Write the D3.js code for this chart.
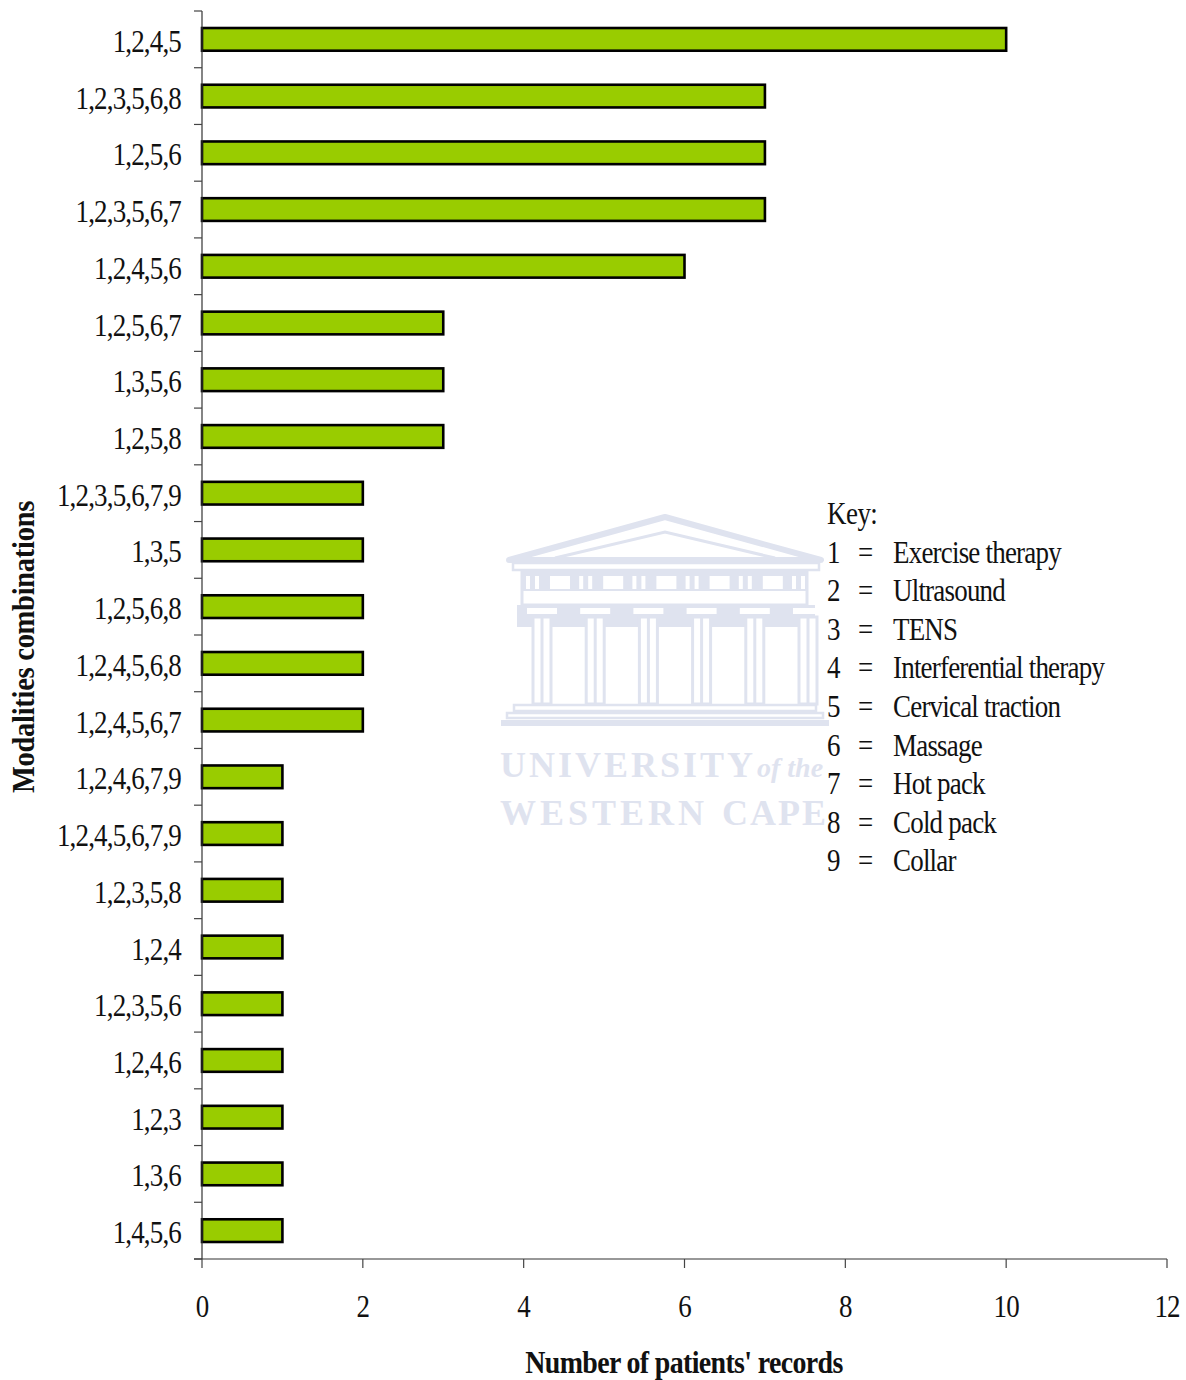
<!DOCTYPE html>
<html>
<head>
<meta charset="utf-8">
<script src="https://cdn.jsdelivr.net/npm/d3@7"></script>
<style>
  html, body { margin: 0; padding: 0; background: #fff; }
  svg { display: block; }
  text { font-family: "Liberation Serif", serif; fill: #111; }
</style>
</head>
<body>
<div id="chart"></div>
<script>
const categories = ["1,2,4,5", "1,2,3,5,6,8", "1,2,5,6", "1,2,3,5,6,7", "1,2,4,5,6", "1,2,5,6,7", "1,3,5,6", "1,2,5,8",
  "1,2,3,5,6,7,9", "1,3,5", "1,2,5,6,8", "1,2,4,5,6,8", "1,2,4,5,6,7", "1,2,4,6,7,9", "1,2,4,5,6,7,9", "1,2,3,5,8",
  "1,2,4", "1,2,3,5,6", "1,2,4,6", "1,2,3", "1,3,6", "1,4,5,6"];
const records = [10, 7, 7, 7, 6, 3, 3, 3, 2, 2, 2, 2, 2, 1, 1, 1, 1, 1, 1, 1, 1, 1];
const xTicks = [0, 2, 4, 6, 8, 10, 12];
const keyNumbers = ["1", "2", "3", "4", "5", "6", "7", "8", "9"];
const keyNames = ["Exercise therapy", "Ultrasound", "TENS", "Interferential therapy", "Cervical traction",
  "Massage", "Hot pack", "Cold pack", "Collar"];

const SIZE = { width: 1186, height: 1380 };
const MARGIN = { left: 202, right: 19, top: 11, bottom: 121 };
const FONT = 31;

const svg = d3.select("#chart").append("svg")
  .attr("width", SIZE.width)
  .attr("height", SIZE.height);

const x = d3.scaleLinear().domain([0, 12]).range([MARGIN.left, SIZE.width - MARGIN.right]);
const y = d3.scaleBand().domain(categories).range([MARGIN.top, SIZE.height - MARGIN.bottom]).paddingInner(0.6).paddingOuter(0.3);

// the source text is tall and narrow, so squeeze it sideways
const squeeze = (px, py, sx) => `translate(${px},${py}) scale(${sx},1)`;

// watermark sits behind everything
const wm = svg.append("g").attr("transform", "translate(500,512)");
const wmColor = "#dfe3ef";
wm.append("path").attr("fill", "none").attr("stroke", wmColor).attr("stroke-width", 6)
  .attr("stroke-linejoin", "round")
  .attr("d", "M9,48 L165,5 L321,48 Z");
wm.append("path").attr("fill", "none").attr("stroke", wmColor).attr("stroke-width", 3)
  .attr("d", "M55,46 L165,20 L275,46");
wm.append("rect").attr("x", 13).attr("y", 51).attr("width", 306).attr("height", 7).attr("fill", "none").attr("stroke", wmColor).attr("stroke-width", 2.5);
wm.append("rect").attr("x", 22).attr("y", 60).attr("width", 285).attr("height", 33).attr("fill", "none").attr("stroke", wmColor).attr("stroke-width", 3);
wm.append("rect").attr("x", 22).attr("y", 60).attr("width", 285).attr("height", 19).attr("fill", wmColor);
d3.range(6).forEach(i => {
  wm.append("rect").attr("x", 50 + i * 53.2).attr("y", 64).attr("width", 20).attr("height", 13).attr("fill", "#fff");
  wm.append("rect").attr("x", 26 + i * 53.2).attr("y", 64).attr("width", 4).attr("height", 13).attr("fill", "#fff");
  wm.append("rect").attr("x", 35 + i * 53.2).attr("y", 64).attr("width", 4).attr("height", 13).attr("fill", "#fff");
});
wm.append("rect").attr("x", 17).attr("y", 93).attr("width", 298).attr("height", 22).attr("fill", wmColor);
d3.range(6).forEach(i => {
  const cx = 33 + i * 53.2;
  wm.append("rect").attr("x", cx - 6).attr("y", 96).attr("width", 30).attr("height", 6).attr("fill", "#fff");
  wm.append("rect").attr("x", cx).attr("y", 105).attr("width", 18).attr("height", 87).attr("fill", "#fff").attr("stroke", wmColor).attr("stroke-width", 3);
  wm.append("line").attr("x1", cx + 9).attr("x2", cx + 9).attr("y1", 105).attr("y2", 192).attr("stroke", wmColor).attr("stroke-width", 3);
});
wm.append("rect").attr("x", 14).attr("y", 193).attr("width", 302).attr("height", 6).attr("fill", "none").attr("stroke", wmColor).attr("stroke-width", 2.5);
wm.append("rect").attr("x", 7).attr("y", 201).attr("width", 316).attr("height", 5).attr("fill", "none").attr("stroke", wmColor).attr("stroke-width", 2.5);
wm.append("rect").attr("x", 1).attr("y", 208).attr("width", 328).attr("height", 6).attr("fill", wmColor);

svg.append("text").attr("x", 500).attr("y", 777)
  .attr("font-size", 36).attr("font-weight", "bold").attr("letter-spacing", 3)
  .style("fill", wmColor).text("UNIVERSITY");
svg.append("text").attr("x", 757).attr("y", 777)
  .attr("font-size", 28).attr("font-style", "italic").attr("font-weight", "bold")
  .style("fill", wmColor).text("of the");
svg.append("text").attr("x", 500).attr("y", 825)
  .attr("font-size", 36).attr("font-weight", "bold").attr("letter-spacing", 4)
  .style("fill", wmColor).text("WESTERN");
svg.append("text").attr("x", 722).attr("y", 825)
  .attr("font-size", 36).attr("font-weight", "bold").attr("letter-spacing", 2)
  .style("fill", wmColor).text("CAPE");

// bars
svg.append("g").selectAll("rect")
  .data(records)
  .join("rect")
  .attr("x", x(0))
  .attr("y", (d, i) => y(categories[i]))
  .attr("width", d => x(d) - x(0))
  .attr("height", y.bandwidth())
  .attr("fill", "#99cc00")
  .attr("stroke", "#000")
  .attr("stroke-width", 2.6);

// y axis, ticks sit between the categories
const yAxisG = svg.append("g");
yAxisG.append("line")
  .attr("x1", x(0)).attr("x2", x(0))
  .attr("y1", MARGIN.top).attr("y2", SIZE.height - MARGIN.bottom)
  .attr("stroke", "#333").attr("stroke-width", 1.2);
yAxisG.selectAll(".tick-line")
  .data(d3.range(categories.length + 1))
  .join("line")
  .attr("class", "tick-line")
  .attr("x1", x(0) - 8).attr("x2", x(0))
  .attr("y1", i => MARGIN.top + i * y.step())
  .attr("y2", i => MARGIN.top + i * y.step())
  .attr("stroke", "#444").attr("stroke-width", 1.2);
yAxisG.selectAll(".cat-label")
  .data(categories)
  .join("text")
  .attr("class", "cat-label")
  .attr("transform", d => squeeze(181, y(d) + y.bandwidth() / 2 + 12.5, 0.87))
  .attr("text-anchor", "end")
  .attr("font-size", FONT)
  .attr("letter-spacing", -0.95)
  .text(d => d);

// x axis
const xAxisG = svg.append("g");
xAxisG.append("line")
  .attr("x1", x(0) - 8).attr("x2", x(12))
  .attr("y1", SIZE.height - MARGIN.bottom).attr("y2", SIZE.height - MARGIN.bottom)
  .attr("stroke", "#333").attr("stroke-width", 1.2);
xAxisG.selectAll(".x-tick")
  .data(xTicks)
  .join("line")
  .attr("class", "x-tick")
  .attr("x1", d => x(d)).attr("x2", d => x(d))
  .attr("y1", SIZE.height - MARGIN.bottom).attr("y2", SIZE.height - MARGIN.bottom + 9)
  .attr("stroke", "#444").attr("stroke-width", 1.2);
xAxisG.selectAll(".x-label")
  .data(xTicks)
  .join("text")
  .attr("class", "x-label")
  .attr("transform", d => squeeze(x(d), 1317, 0.87))
  .attr("text-anchor", "middle")
  .attr("font-size", FONT)
  .attr("letter-spacing", -1)
  .text(d => d);

// axis titles
svg.append("text")
  .attr("transform", squeeze(684, 1373, 0.9))
  .attr("text-anchor", "middle")
  .attr("font-size", FONT).attr("font-weight", "bold").attr("letter-spacing", -0.7)
  .text("Number of patients' records");
svg.append("text")
  .attr("transform", "translate(34,647) rotate(-90) scale(0.92,1)")
  .attr("text-anchor", "middle")
  .attr("font-size", FONT).attr("font-weight", "bold").attr("letter-spacing", -0.3)
  .text("Modalities combinations");

// key
const key = svg.append("g");
const keyY = i => 562.5 + i * 38.6;
key.append("text").attr("transform", squeeze(827, 523.5, 0.87)).attr("font-size", FONT).attr("letter-spacing", -0.6).text("Key:");
key.selectAll(".key-num").data(keyNumbers).join("text").attr("class", "key-num")
  .attr("transform", (d, i) => squeeze(827, keyY(i), 0.87)).attr("font-size", FONT).text(d => d);
key.selectAll(".key-eq").data(keyNumbers).join("text").attr("class", "key-eq")
  .attr("transform", (d, i) => squeeze(858, keyY(i), 0.87)).attr("font-size", FONT).text("=");
key.selectAll(".key-name").data(keyNames).join("text").attr("class", "key-name")
  .attr("transform", (d, i) => squeeze(893, keyY(i), 0.87)).attr("font-size", FONT).attr("letter-spacing", -0.9).text(d => d);
</script>
</body>
</html>
